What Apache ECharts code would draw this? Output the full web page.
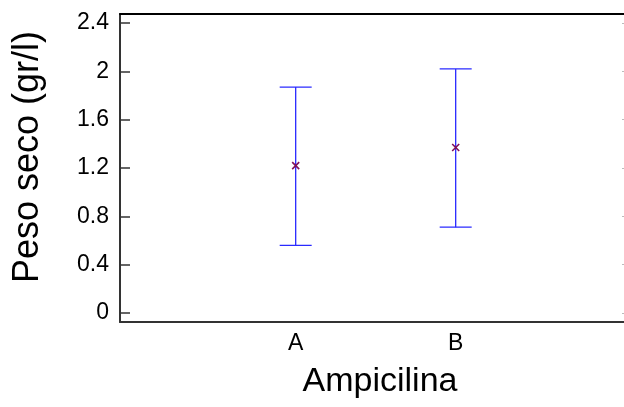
<!DOCTYPE html>
<html>
<head>
<meta charset="utf-8">
<script src="https://cdn.jsdelivr.net/npm/echarts@6/dist/echarts.min.js"></script>
<style>
  html, body { margin: 0; padding: 0; background: #fff; }
  #chart { width: 624px; height: 407px; }
</style>
</head>
<body>
<div id="chart"></div>
<script>
// datos
const categorias = ['A', 'B'];
const medias = [1.22, 1.37];
const limInferior = [0.56, 0.71];
const limSuperior = [1.87, 2.02];
const ticksY = [0, 0.4, 0.8, 1.2, 1.6, 2, 2.4];

const fuente = 'Liberation Sans, Arial, sans-serif';

// posición x de cada categoría: 1, 2, ...
const datosBarras = categorias.map((c, i) => [i + 1, medias[i], limInferior[i], limSuperior[i]]);

function dibujarBarra(params, api) {
    const x = api.value(0);
    const pMedia = api.coord([x, api.value(1)]);
    const pInf = api.coord([x, api.value(2)]);
    const pSup = api.coord([x, api.value(3)]);
    const cap = 16;
    const m = 3.5;
    const azul = { stroke: '#2a2aff', lineWidth: 1.3 };
    const morado = { stroke: '#80105a', lineWidth: 1.6 };
    return {
        type: 'group',
        children: [
            { type: 'line', shape: { x1: pInf[0], y1: pInf[1], x2: pSup[0], y2: pSup[1] }, style: azul },
            { type: 'line', shape: { x1: pSup[0] - cap, y1: pSup[1], x2: pSup[0] + cap, y2: pSup[1] }, style: azul },
            { type: 'line', shape: { x1: pInf[0] - cap, y1: pInf[1], x2: pInf[0] + cap, y2: pInf[1] }, style: azul },
            { type: 'line', shape: { x1: pMedia[0] - m, y1: pMedia[1] - m, x2: pMedia[0] + m, y2: pMedia[1] + m }, style: morado },
            { type: 'line', shape: { x1: pMedia[0] - m, y1: pMedia[1] + m, x2: pMedia[0] + m, y2: pMedia[1] - m }, style: morado }
        ]
    };
}

const chart = echarts.init(document.getElementById('chart'));

const xMin = -0.098;
const xMax = 3.052;

const option = {
    animation: false,
    grid: { left: 120, right: 0, top: 14, bottom: 85 },
    xAxis: [
        {
            type: 'value',
            position: 'bottom',
            min: xMin,
            max: xMax,
            name: 'Ampicilina',
            nameLocation: 'middle',
            nameGap: 43,
            nameTextStyle: { fontFamily: fuente, fontSize: 34, color: '#000', padding: [0, 0, 0, 16] },
            axisLine: { show: true, onZero: false, lineStyle: { color: '#333', width: 2 } },
            axisTick: { show: false },
            splitLine: { show: false },
            axisLabel: {
                customValues: [1, 2],
                formatter: v => categorias[Math.round(v) - 1] || '',
                fontFamily: fuente, fontSize: 23, color: '#000', margin: 10
            }
        },
        {
            type: 'value',
            position: 'top',
            min: xMin,
            max: xMax,
            axisLine: { show: true, onZero: false, lineStyle: { color: '#000', width: 2 } },
            axisTick: { show: false },
            axisLabel: { show: false },
            splitLine: { show: false }
        }
    ],
    yAxis: [
        {
            type: 'value',
            position: 'left',
            min: -0.075,
            max: 2.475,
            name: 'Peso seco (gr/l)',
            nameLocation: 'middle',
            nameGap: 74,
            nameTextStyle: { fontFamily: fuente, fontSize: 36, color: '#000', padding: [0, 0, 0, 22] },
            axisLine: { show: true, onZero: false, lineStyle: { color: '#333', width: 2 } },
            axisTick: { show: true, inside: true, length: 10, customValues: ticksY, lineStyle: { color: '#333', width: 1.5 } },
            splitLine: { show: false },
            axisLabel: {
                customValues: ticksY,
                formatter: v => String(Math.round(v * 10) / 10),
                fontFamily: fuente, fontSize: 23, color: '#000', margin: 11
            }
        },
        {
            type: 'value',
            position: 'right',
            min: -0.075,
            max: 2.475,
            axisLine: { show: false, onZero: false },
            axisTick: { show: true, inside: true, length: 2, customValues: ticksY, lineStyle: { color: '#bbb', width: 1 } },
            axisLabel: { show: false },
            splitLine: { show: false }
        }
    ],
    series: [
        {
            type: 'custom',
            xAxisIndex: 0,
            yAxisIndex: 0,
            renderItem: dibujarBarra,
            encode: { x: 0, y: [1, 2, 3] },
            data: datosBarras,
            clip: false
        }
    ]
};

chart.setOption(option);
</script>
</body>
</html>
